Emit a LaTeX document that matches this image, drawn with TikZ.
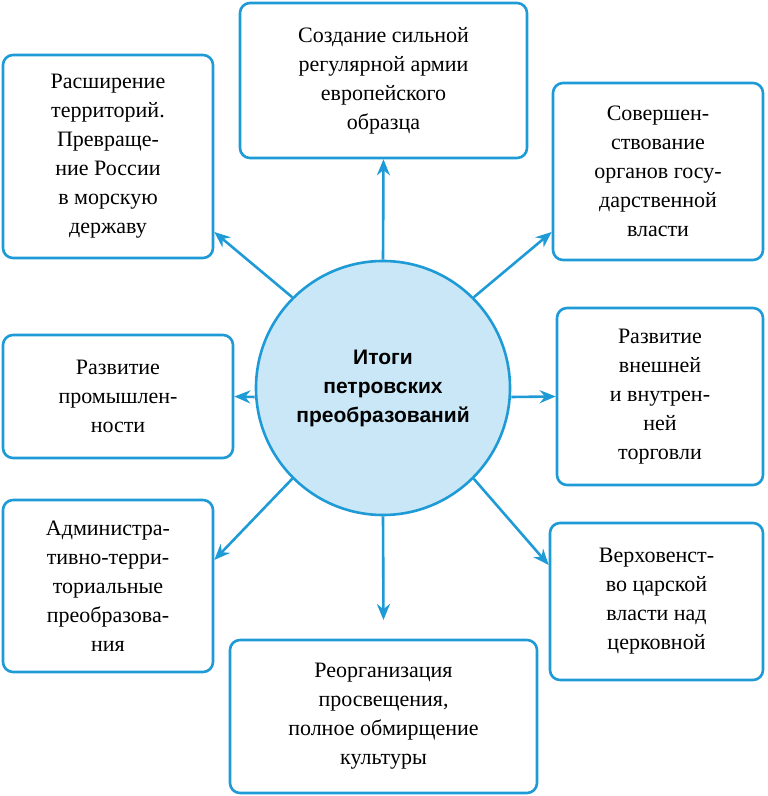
\documentclass[tikz,border=0pt]{standalone}
\usepackage{fontspec}
\setmainfont{Liberation Serif}
\newfontfamily\boxfont{Liberation Serif}
\newfontfamily\circfont{Liberation Sans}
\usetikzlibrary{arrows.meta, positioning}
\definecolor{frameblue}{HTML}{1E9BD7}
\definecolor{circfill}{HTML}{C9E7F6}

\begin{document}
\begin{tikzpicture}[x=1pt, y=1pt, line width=2.6pt]
    % Styles for boxes and arrows
    \tikzstyle{box} = [rectangle, draw=frameblue, rounded corners=10pt, align=center, font=\boxfont\fontsize{22}{29}\selectfont, inner sep=0pt]
    \tikzstyle{arrow} = [draw=frameblue, -{Stealth[length=16pt, width=13pt]}, fill=frameblue]
    \useasboundingbox (0,0) rectangle (768,796);

    % Center
    \node[circle, draw=frameblue, fill=circfill, minimum size=254pt, align=center,
          font=\circfont\bfseries\fontsize{21}{29}\selectfont] (itogi) at (383,408) {Итоги\\петровских\\преобразований};

    % Boxes
    \node[box, minimum width=287pt, minimum height=155pt] (army) at (383.5,715.5) {Создание сильной\\регулярной армии\\европейского\\образца};
    \node[box, minimum width=210pt, minimum height=203pt] (terr) at (108,639.5) {Расширение\\территорий.\\Превраще-\\ние России\\в морскую\\державу};
    \node[box, minimum width=210pt, minimum height=177pt] (vlast) at (658,624.5) {Совершен-\\ствование\\органов госу-\\дарственной\\власти};
    \node[box, minimum width=230pt, minimum height=123pt] (prom) at (118,399.5) {Развитие\\промышлен-\\ности};
    \node[box, minimum width=206pt, minimum height=177pt] (torg) at (660,399.5) {Развитие\\внешней\\и внутрен-\\ней\\торговли};
    \node[box, minimum width=210pt, minimum height=172pt] (admin) at (108,210) {Администра-\\тивно-терри-\\ториальные\\преобразова-\\ния};
    \node[box, minimum width=213pt, minimum height=157pt] (cerk) at (656.5,194.5) {Верховенст-\\во царской\\власти над\\церковной};
    \node[box, minimum width=307pt, minimum height=153pt] (prosv) at (383.5,79.5) {Реорганизация\\просвещения,\\полное обмирщение\\культуры};

    % Arrows
    \draw[arrow] (itogi.north) -- (army.south);
    \draw[arrow] (itogi.135) -- (terr.south east |- 0,564);
    \draw[arrow] (itogi.45) -- (vlast.south west |- 0,564);
    \draw[arrow] (itogi.west |- 0,399) -- (prom.east);
    \draw[arrow] (itogi.east |- 0,399) -- (torg.west);
    \draw[arrow] (itogi.225) -- (admin.east |- 0,236);
    \draw[arrow] (itogi.315) -- (cerk.west |- 0,231);
    \draw[arrow] (itogi.south) -- (prosv.north |- 0,176);
\end{tikzpicture}
\end{document}
